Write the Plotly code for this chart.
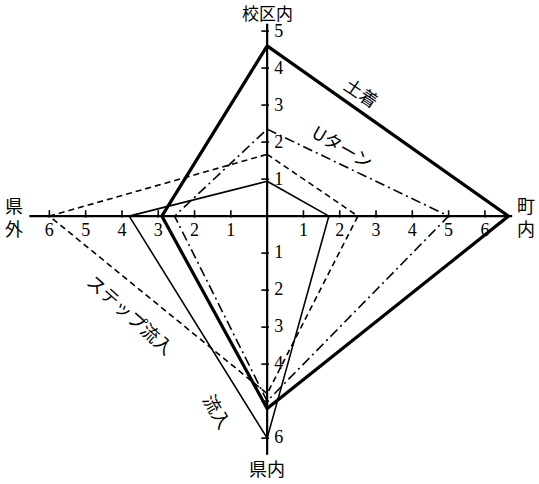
import plotly.graph_objects as go

# Axis names (top, right, bottom, left)
axis_names = ["校区内", "町内", "県内", "県外"]

# Series values: [校区内 (up), 町内 (right), 県内 (down), 県外 (left)]
series_names = ["土着", "Uターン", "ステップ流入", "流入"]
dochaku = [4.6, 6.65, 5.2, 2.9]
u_turn = [2.35, 5.0, 5.0, 2.55]
step_inflow = [1.67, 2.5, 4.8, 6.0]
inflow = [0.94, 1.7, 6.0, 3.8]

# Tick labels
h_ticks = [1, 2, 3, 4, 5, 6]
up_ticks = [1, 2, 3, 4, 5]
down_ticks = [1, 2, 3, 4, 6]

W, H = 539, 484
XR = [-7.36, 7.49]
YR = [-7.24, 5.84]

fig = go.Figure()

def poly(v):
    t, r, b, l = v
    return [0, r, 0, -l, 0], [t, 0, -b, 0, t]

styles = [
    dict(color="black", width=3.2),
    dict(color="black", width=1.6, dash="10px,4px,2px,4px"),
    dict(color="black", width=1.6, dash="6px,4px"),
    dict(color="black", width=1.6),
]
for name, vals, st in zip(series_names, [dochaku, u_turn, step_inflow, inflow], styles):
    x, y = poly(vals)
    fig.add_trace(go.Scatter(x=x, y=y, mode="lines", line=st, name=name,
                             showlegend=False, hoverinfo="skip"))

# Axes lines
fig.add_trace(go.Scatter(x=[-6.55, 6.75, None, 0, 0], y=[0, 0, None, 5.2, -6.45],
                         mode="lines", line=dict(color="black", width=2.2),
                         showlegend=False, hoverinfo="skip"))

# Tick marks
tx, ty = [], []
for v in h_ticks:
    for s in (1, -1):
        tx += [s * v, s * v, None]
        ty += [-0.04, 0.16, None]
for v in up_ticks:
    tx += [-0.16, 0.05, None]
    ty += [v, v, None]
for v in down_ticks + [5]:
    tx += [-0.16, 0.05, None]
    ty += [-v, -v, None]
fig.add_trace(go.Scatter(x=tx, y=ty, mode="lines", line=dict(color="black", width=1.6),
                         showlegend=False, hoverinfo="skip"))

numfont = dict(family="Liberation Serif", size=18, color="black")
jpfont = dict(family="Noto Sans CJK JP", size=18, color="black")

# Horizontal tick labels
fig.add_trace(go.Scatter(
    x=[v for v in h_ticks] + [-v for v in h_ticks],
    y=[-0.42] * (2 * len(h_ticks)),
    text=[str(v) for v in h_ticks] * 2,
    mode="text", textfont=numfont, showlegend=False, hoverinfo="skip"))
# Vertical tick labels
fig.add_trace(go.Scatter(
    x=[0.32] * (len(up_ticks) + len(down_ticks)),
    y=[v - 0.05 for v in up_ticks] + [-v for v in down_ticks],
    text=[str(v) for v in up_ticks] + [str(v) for v in down_ticks],
    mode="text", textfont=numfont, showlegend=False, hoverinfo="skip"))

def px2x(px):
    return XR[0] + px / W * (XR[1] - XR[0])

def py2y(py):
    return YR[1] - py / H * (YR[1] - YR[0])

# Axis names
fig.add_annotation(x=0, y=py2y(12), text=axis_names[0], showarrow=False,
                   font=dict(family="Noto Sans CJK JP", size=17, color="black"))
fig.add_annotation(x=px2x(526), y=0, text="町<br>内", showarrow=False, font=jpfont)
fig.add_annotation(x=0, y=py2y(468), text=axis_names[2], showarrow=False, font=jpfont)
fig.add_annotation(x=px2x(14), y=0, text="県<br>外", showarrow=False, font=jpfont)

# Series labels
fig.add_annotation(x=px2x(362), y=py2y(92), text=series_names[0], textangle=34,
                   showarrow=False, font=jpfont)
fig.add_annotation(x=px2x(343), y=py2y(146), text=series_names[1], textangle=30,
                   showarrow=False, font=jpfont)
fig.add_annotation(x=px2x(131), y=py2y(314), text=series_names[2], textangle=42,
                   showarrow=False, font=jpfont)
fig.add_annotation(x=px2x(218), y=py2y(411), text=series_names[3], textangle=60,
                   showarrow=False, font=jpfont)

fig.update_xaxes(visible=False, range=XR)
fig.update_yaxes(visible=False, range=YR)
fig.update_layout(width=W, height=H, margin=dict(l=0, r=0, t=0, b=0),
                  plot_bgcolor="white", paper_bgcolor="white")

fig.write_html("out.html", config={"displayModeBar": False},
               post_script="document.body.style.margin='0';document.body.style.overflow='hidden';")
